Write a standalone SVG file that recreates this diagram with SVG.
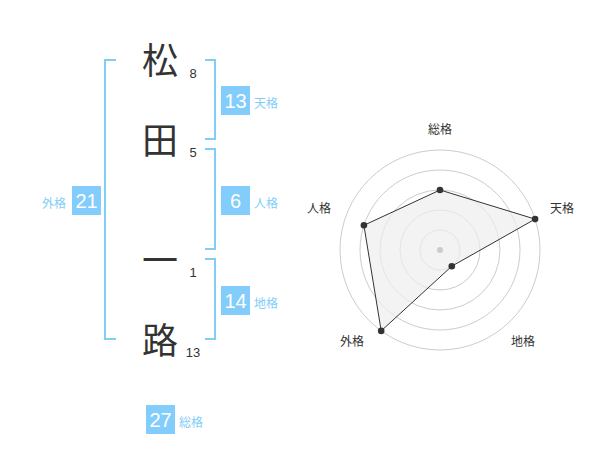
<svg xmlns="http://www.w3.org/2000/svg" width="600" height="470" viewBox="0 0 600 470">
<style>
.ch{font-family:"Noto Sans CJK JP","Noto Sans",sans-serif;font-size:36px;fill:#333;text-anchor:middle}
.num{font-family:"Liberation Sans",Arial,sans-serif;font-size:13px;fill:#333;text-anchor:middle}
.br{fill:none;stroke:#82cdf8;stroke-width:2}
.box{fill:#82cdfb}
.bv{font-family:"Liberation Sans",Arial,sans-serif;font-size:20px;fill:#fff;text-anchor:middle}
.bl{font-family:"Noto Sans CJK JP",sans-serif;font-size:12px;fill:#82cdf8}
.ring{fill:none;stroke:#ccc;stroke-width:1}
.rl{font-family:"Noto Sans CJK JP",sans-serif;font-size:12px;fill:#333;text-anchor:middle}
</style>
<g id="chars">
<text class="ch" x="160" y="74">松</text>
<text class="ch" x="160" y="154">田</text>
<text class="ch" x="160" y="274">一</text>
<text class="ch" x="160" y="354">路</text>
</g>
<g id="strokes">
<text class="num" x="193" y="78">8</text>
<text class="num" x="193" y="157">5</text>
<text class="num" x="193" y="277">1</text>
<text class="num" x="193" y="357">13</text>
</g>
<g id="connectors">
<path class="br" d="M116,60 H105 V339 H116"/>
<path class="br" d="M205,60 H215 V139 H205"/>
<path class="br" d="M205,149 H215 V249 H205"/>
<path class="br" d="M205,259 H215 V339 H205"/>
</g>
<g id="tenkaku">
<rect class="box" x="221" y="86" width="29" height="29"/>
<text class="bv" x="235.5" y="108">13</text>
<text class="bl" x="254" y="108">天格</text>
</g>
<g id="jinkaku">
<rect class="box" x="221" y="186" width="29" height="29"/>
<text class="bv" x="235.5" y="208">6</text>
<text class="bl" x="254" y="208">人格</text>
</g>
<g id="gaikaku">
<rect class="box" x="72" y="186" width="29" height="29"/>
<text class="bv" x="86.5" y="208">21</text>
<text class="bl" x="66" y="208" text-anchor="end">外格</text>
</g>
<g id="chikaku">
<rect class="box" x="221" y="286" width="29" height="29"/>
<text class="bv" x="235.5" y="308">14</text>
<text class="bl" x="254" y="308">地格</text>
</g>
<g id="soukaku">
<rect class="box" x="146" y="405" width="29" height="29"/>
<text class="bv" x="160.5" y="427">27</text>
<text class="bl" x="179" y="427">総格</text>
</g>
<g id="radar">
<circle class="ring" cx="440" cy="250" r="20"/>
<circle class="ring" cx="440" cy="250" r="40"/>
<circle class="ring" cx="440" cy="250" r="60"/>
<circle class="ring" cx="440" cy="250" r="80"/>
<circle class="ring" cx="440" cy="250" r="100"/>
<polygon points="440,190 535.1,219.1 451.8,266.2 381.2,330.9 363.9,225.3" fill="#eeeeee" fill-opacity="0.7" stroke="#333" stroke-width="1"/>
<circle cx="440" cy="250" r="3" fill="#ccc"/>
<g fill="#333">
<circle cx="440" cy="190" r="3.3"/>
<circle cx="535.1" cy="219.1" r="3.3"/>
<circle cx="451.8" cy="266.2" r="3.3"/>
<circle cx="381.2" cy="330.9" r="3.3"/>
<circle cx="363.9" cy="225.3" r="3.3"/>
</g>
<text class="rl" x="440" y="134">総格</text>
<text class="rl" x="562" y="213">天格</text>
<text class="rl" x="523" y="346">地格</text>
<text class="rl" x="352" y="346">外格</text>
<text class="rl" x="319" y="213">人格</text>
</g>
</svg>
